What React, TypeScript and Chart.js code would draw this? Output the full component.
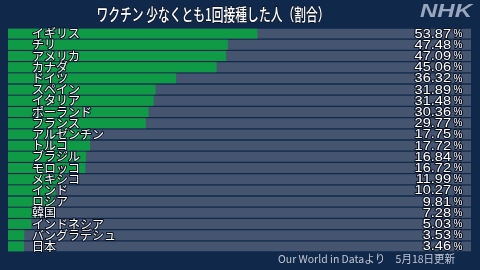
import React, { useEffect, useRef } from "react";
import { Chart, registerables } from "chart.js";

Chart.register(...registerables);

const title = "ワクチン 少なくとも1回接種した人（割合）";
const source = "Our World in Dataより　5月18日更新";
const countries = [
  "イギリス", "チリ", "アメリカ", "カナダ", "ドイツ", "スペイン", "イタリア", "ポーランド", "フランス", "アルゼンチン",
  "トルコ", "ブラジル", "モロッコ", "メキシコ", "インド", "ロシア", "韓国", "インドネシア", "バングラデシュ", "日本",
];
const values = [
  53.87, 47.48, 47.09, 45.06, 36.32, 31.89, 31.48, 30.36, 29.77, 17.75,
  17.72, 16.84, 16.72, 11.99, 10.27, 9.81, 7.28, 5.03, 3.53, 3.46,
];
const fullScale = 100;

const BG = "#10284a";
const GREEN = "#0f9a45";
const TRACK = "#45556f";

function drawScaled(ctx: CanvasRenderingContext2D, text: string, x: number, y: number, sx: number, align: "left" | "right" | "center", stroke?: string, lw = 2) {
  ctx.save();
  const w = ctx.measureText(text).width * sx;
  let left = x;
  if (align === "right") left = x - w;
  else if (align === "center") left = x - w / 2;
  ctx.translate(left, y);
  ctx.scale(sx, 1);
  ctx.textAlign = "left";
  if (stroke) {
    ctx.strokeStyle = stroke;
    ctx.lineWidth = lw;
    ctx.lineJoin = "round";
    ctx.strokeText(text, 0, 0);
  }
  ctx.fillText(text, 0, 0);
  ctx.restore();
}

const decorPlugin = {
  id: "decor",
  beforeDraw(chart: any) {
    const ctx = chart.ctx as CanvasRenderingContext2D;
    ctx.save();
    ctx.fillStyle = BG;
    ctx.fillRect(0, 0, chart.width, chart.height);
    ctx.restore();
  },
  afterDraw(chart: any) {
    const ctx = chart.ctx as CanvasRenderingContext2D;
    const meta = chart.getDatasetMeta(0);
    ctx.save();
    ctx.textBaseline = "middle";
    // title
    ctx.fillStyle = "#ffffff";
    ctx.font = "500 17px 'Noto Sans CJK JP'";
    const tw = ctx.measureText(title).width;
    drawScaled(ctx, title, 213, 15, 233 / tw, "center", "#0a1020", 1.5);
    // NHK logo
    ctx.fillStyle = "#9aa6bd";
    ctx.font = "italic bold 19px 'Liberation Sans'";
    const nw = ctx.measureText("NHK").width;
    drawScaled(ctx, "NHK", 420, 12, 52 / nw, "left");
    // rows
    meta.data.forEach((el: any, i: number) => {
      const y = el.y;
      ctx.fillStyle = "#ffffff";
      ctx.font = "12px 'Noto Sans CJK JP'";
      drawScaled(ctx, countries[i], 32, y, 1, "left", "#0a1020", 2);
      ctx.font = "13px 'Liberation Sans'";
      drawScaled(ctx, values[i].toFixed(2), 451, y + 0.5, 1.12, "right", "#0a1020", 2);
      ctx.font = "10px 'Liberation Sans'";
      drawScaled(ctx, "%", 453.5, y + 0.5, 1, "left", "#0a1020", 2);
    });
    // source
    ctx.fillStyle = "#c0c6d2";
    ctx.font = "11px 'Noto Sans CJK JP'";
    const sw = ctx.measureText(source).width;
    drawScaled(ctx, source, 455, 259, 177 / sw, "right");
    ctx.restore();
  },
};

export default function App() {
  const ref = useRef<HTMLCanvasElement | null>(null);
  useEffect(() => {
    document.body.style.margin = "0";
    const canvas = ref.current!;
    const chart = new Chart(canvas, {
      type: "bar",
      data: {
        labels: countries,
        datasets: [
          {
            data: values,
            backgroundColor: GREEN,
            grouped: false,
            barPercentage: 0.88,
            categoryPercentage: 1,
            order: 0,
          } as any,
          {
            data: countries.map(() => fullScale),
            backgroundColor: TRACK,
            grouped: false,
            barPercentage: 0.88,
            categoryPercentage: 1,
            order: 1,
          } as any,
        ],
      },
      options: {
        indexAxis: "y",
        responsive: false,
        animation: false,
        layout: { padding: { left: 8, right: 9, top: 28, bottom: 18 } },
        scales: {
          x: { display: false, min: 0, max: fullScale },
          y: { display: false },
        },
        plugins: { legend: { display: false }, tooltip: { enabled: false } },
      },
      plugins: [decorPlugin],
    });
    return () => chart.destroy();
  }, []);
  return <canvas ref={ref} width={480} height={270} style={{ display: "block" }} />;
}
